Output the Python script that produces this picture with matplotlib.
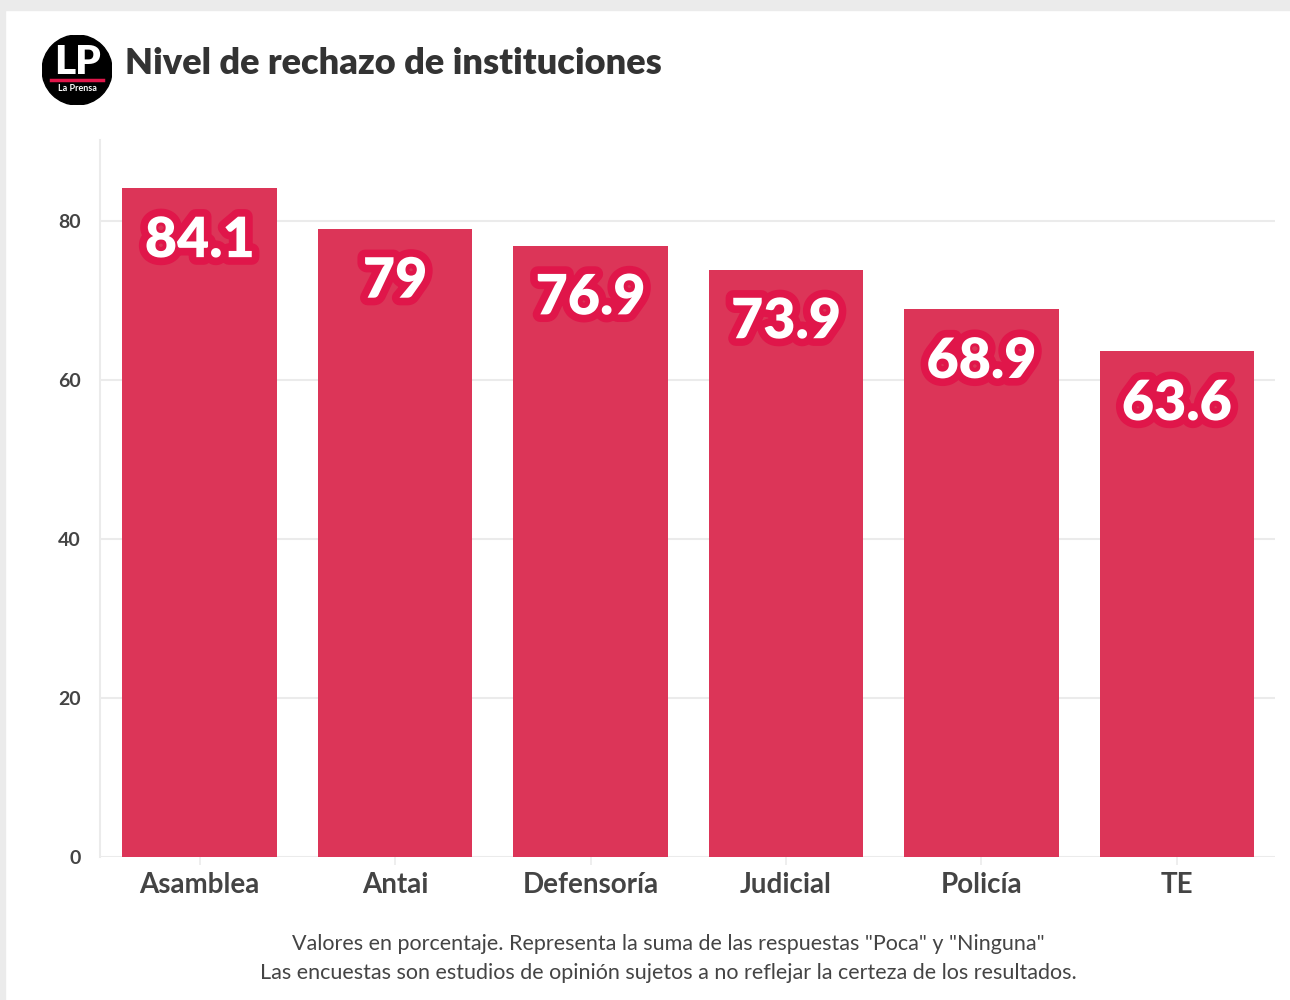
import matplotlib
matplotlib.use("Agg")
import matplotlib.pyplot as plt
import matplotlib.patheffects as pe
from matplotlib.patches import Circle, Rectangle

plt.rcParams['font.family'] = ['Lato', 'DejaVu Sans']

instituciones = ['Asamblea', 'Antai', 'Defensoría', 'Judicial', 'Policía', 'TE']
rechazo = [84.1, 79, 76.9, 73.9, 68.9, 63.6]
yticks = [0, 20, 40, 60, 80]

bar_color = '#DC3558'
stroke_color = '#E0164A'
text_color = '#444444'
grid_color = '#EBEBEB'

fig = plt.figure(figsize=(12.9, 10), dpi=100)
fig.patch.set_facecolor('white')

# gray frame around the picture
fig.patches.append(Rectangle((0, 0.9905), 1, 0.0095, transform=fig.transFigure,
                             color='#EBEBEB', zorder=0))
fig.patches.append(Rectangle((0, 0), 0.004, 1, transform=fig.transFigure,
                             color='#EBEBEB', zorder=0))

ax = fig.add_axes([0.0775, 0.143, 0.9105, 0.717])
x = range(len(instituciones))
ax.bar(x, rechazo, width=0.79, color=bar_color, zorder=2)

for i, v in enumerate(rechazo):
    ax.text(i, v - 6.5, f'{v:g}', ha='center', va='center', color='white',
            fontsize=40, fontweight='heavy', zorder=3,
            path_effects=[pe.withStroke(linewidth=11, foreground=stroke_color)])

ax.set_xlim(-0.51, 5.5)
ax.set_ylim(0, 90.2)
ax.set_yticks(yticks)
ax.set_xticks(list(x))
ax.set_xticklabels(instituciones, fontsize=20, fontweight='bold', color=text_color)
ax.set_yticklabels([str(t) for t in yticks], fontsize=14, fontweight='bold', color=text_color)
ax.tick_params(axis='y', length=0, pad=14)
ax.tick_params(axis='x', length=6, color=grid_color, width=1.2, pad=5)
ax.grid(axis='y', color=grid_color, linewidth=1.5, zorder=0)
ax.set_axisbelow(True)
for s in ['top', 'right', 'bottom']:
    ax.spines[s].set_visible(False)
ax.spines['left'].set_color(grid_color)
ax.spines['left'].set_linewidth(1.5)

# logo
lg = fig.add_axes([0.0326, 0.895, 0.0543, 0.07])
lg.set_xlim(0, 1)
lg.set_ylim(0, 1)
lg.axis('off')
lg.add_patch(Circle((0.5, 0.5), 0.5, color='black'))
lg.text(0.5, 0.6, 'LP', ha='center', va='center', color='white',
        fontsize=29, fontweight='heavy')
lg.plot([0.13, 0.87], [0.35, 0.35], color='#E0164A', linewidth=2.5)
lg.text(0.5, 0.23, 'La Prensa', ha='center', va='center', color='white',
        fontsize=6.5, fontweight='bold')

fig.text(0.097, 0.936, 'Nivel de rechazo de instituciones', ha='left', va='center',
         fontsize=26, fontweight='heavy', color='#333333')

fig.text(0.518, 0.056, 'Valores en porcentaje. Representa la suma de las respuestas "Poca" y "Ninguna"',
         ha='center', va='center', fontsize=15.5, color=text_color)
fig.text(0.518, 0.027, 'Las encuestas son estudios de opinión sujetos a no reflejar la certeza de los resultados.',
         ha='center', va='center', fontsize=15.5, color=text_color)

fig.savefig('out.png', dpi=100)
